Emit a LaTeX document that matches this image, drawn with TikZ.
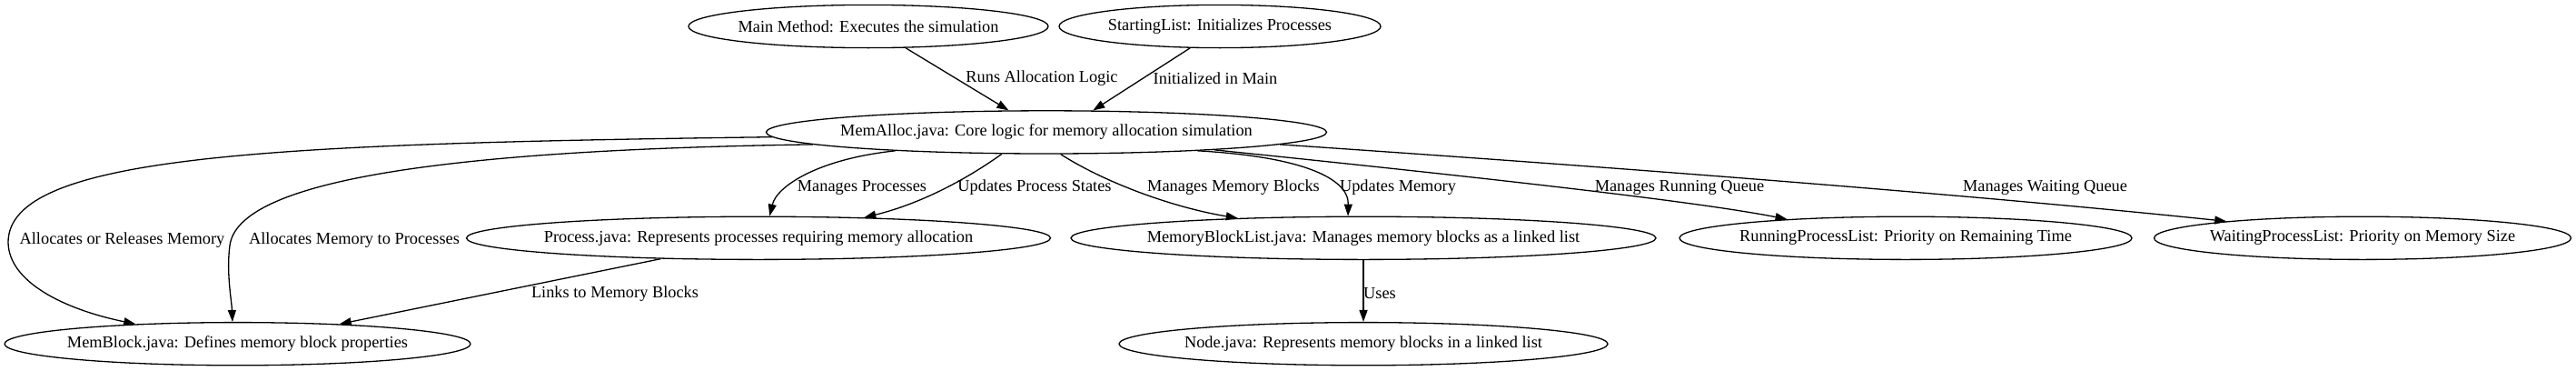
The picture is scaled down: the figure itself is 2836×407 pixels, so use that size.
\documentclass[tikz,border=0pt]{standalone}
\usepackage{fontspec}
\setmainfont{Liberation Serif}
\usetikzlibrary{shapes.geometric,arrows.meta}
\begin{document}
\begin{tikzpicture}[x=1pt,y=-1pt,
  every node/.style={font=\fontsize{18.35}{22}\selectfont},
  ell/.style={draw, ellipse, line width=1.3pt, inner xsep=-12pt, inner ysep=0pt, minimum height=47.2pt},
  conn/.style={draw, line width=1.3pt, -{Triangle[length=13pt,width=9pt]}},
  lbl/.style={inner sep=0pt}
]
\fill[white] (0,0) rectangle (2836,407);
\useasboundingbox (0,0) rectangle (2836,407);

\node[ell, minimum width=396pt] (main) at (956,29) {Main Method: Executes the simulation};
\node[ell, minimum width=354pt] (start) at (1343,29) {StartingList: Initializes Processes};
\node[ell, minimum width=617pt] (memalloc) at (1152,145.4) {MemAlloc.java: Core logic for memory allocation simulation};
\node[ell, minimum width=643pt] (process) at (835,261.8) {Process.java: Represents processes requiring memory allocation};
\node[ell, minimum width=644pt] (mbl) at (1501,261.8) {MemoryBlockList.java: Manages memory blocks as a linked list};
\node[ell, minimum width=498pt] (running) at (2098,261.8) {RunningProcessList: Priority on Remaining Time};
\node[ell, minimum width=459pt] (waiting) at (2601,261.8) {WaitingProcessList: Priority on Memory Size};
\node[ell, minimum width=513pt] (memblock) at (261.5,378.2) {MemBlock.java: Defines memory block properties};
\node[ell, minimum width=538pt] (nodej) at (1501,378.2) {Node.java: Represents memory blocks in a linked list};

\draw[conn] (main.-30) -- (memalloc.150.9);
\draw[conn] (start.-144.9) -- (memalloc.25.9);
\draw[conn] (memalloc.-179.3) .. controls (300,158) and (8,170) .. (9,267) .. controls (10,310) and (70,340) .. (memblock.169.3);
\draw[conn] (memalloc.-177.2) .. controls (480,165) and (262,200) .. (253,270) .. controls (249,300) and (255,330) .. (memblock.103.1);
\draw[conn] (memalloc.-173.8) .. controls (900,175) and (855,205) .. (process.63.1);
\draw[conn] (memalloc.-154.6) .. controls (1060,200) and (1010,225) .. (process.11.7);
\draw[conn] (memalloc.-57) .. controls (1215,200) and (1290,228) .. (mbl.171.7);
\draw[conn] (memalloc.-7.96) .. controls (1430,172) and (1485,195) .. (mbl.125.8);
\draw[conn] (memalloc.-6.19) .. controls (1650,197) and (1870,222) .. (running.171.95);
\draw[conn] (memalloc.-3.23) .. controls (1750,182) and (2150,212) .. (waiting.173.4);
\draw[conn] (process.-168.65) -- (memblock.11.5);
\draw[conn] (mbl) -- (nodej);

\node[lbl] (l1) at (1147,86) {Runs Allocation Logic};
\node[lbl] (l2) at (1338,86) {Initialized in Main};
\node[lbl] (l3) at (134.5,264) {Allocates or Releases Memory};
\node[lbl] (l4) at (390,264) {Allocates Memory to Processes};
\node[lbl] (l5) at (949,206.5) {Manages Processes};
\node[lbl] (l6) at (1139,206.5) {Updates Process States};
\node[lbl] (l7) at (1358,206.5) {Manages Memory Blocks};
\node[lbl] (l8) at (1539,206.5) {Updates Memory};
\node[lbl] (l9) at (1849,206.5) {Manages Running Queue};
\node[lbl] (l10) at (2251.5,206.5) {Manages Waiting Queue};
\node[lbl] (l11) at (677,323) {Links to Memory Blocks};
\node[lbl] (l12) at (1519,323) {Uses};
\end{tikzpicture}
\end{document}
